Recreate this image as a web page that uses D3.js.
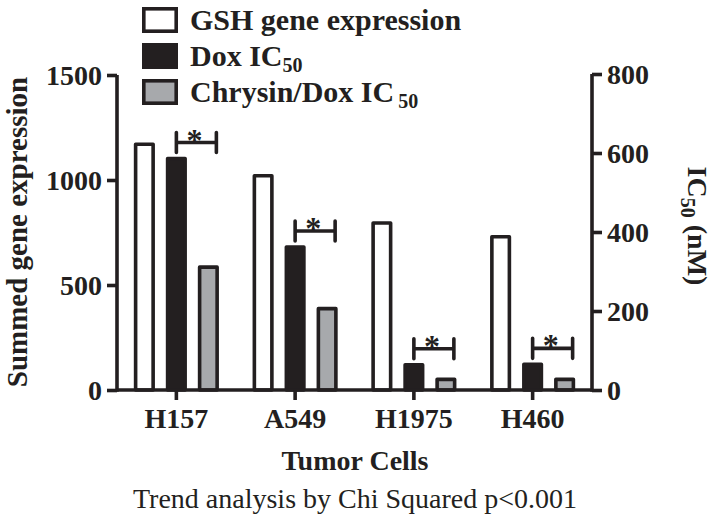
<!DOCTYPE html>
<html>
<head>
<meta charset="utf-8">
<script src="https://cdn.jsdelivr.net/npm/d3@7"></script>
<style>
  body { margin: 0; background: #fff; }
  svg text { font-family: "Liberation Serif", "Times New Roman", serif; fill: #231f20; }
</style>
</head>
<body>
<svg id="chart" width="714" height="522"></svg>
<script>
// values
var cells = ["H157", "A549", "H1975", "H460"];
var gshExpr = [1170, 1020, 795, 730];      // left axis
var doxIC50 = [586, 362, 64, 65];          // right axis, nM
var chrysinDoxIC50 = [311, 206, 27, 27];   // right axis, nM
var leftTicks = [0, 500, 1000, 1500];
var rightTicks = [0, 200, 400, 600, 800];

var ink = "#231f20";
var grey = "#a7a9ac";
var sw = 3.6;

var svg = d3.select("#chart");

var x0 = d3.scaleBand().domain(cells).range([117, 592]);
var x1 = d3.scaleBand().domain([0, 1, 2]).range([-48, 48])
    .paddingInner(0.34).paddingOuter(0.17);
var yL = d3.scaleLinear().domain([0, 1500]).range([390, 75]);
var yR = d3.scaleLinear().domain([0, 800]).range([390, 74]);

var series = [
  { vals: gshExpr, fill: "#fff", y: yL },
  { vals: doxIC50, fill: ink, y: yR },
  { vals: chrysinDoxIC50, fill: grey, y: yR }
];

// bars
series.forEach(function(s, si) {
  svg.append("g").selectAll("rect")
    .data(s.vals)
    .join("rect")
    .attr("x", function(d, i) { return x0(cells[i]) + x0.bandwidth() / 2 + x1(si) + sw / 2; })
    .attr("width", x1.bandwidth() - sw)
    .attr("y", function(d) { return s.y(d); })
    .attr("height", function(d) { return 390 - s.y(d); })
    .attr("fill", s.fill)
    .attr("stroke", ink)
    .attr("stroke-width", sw)
    .attr("stroke-linejoin", "round");
});

// axes
var axL = svg.append("g").attr("transform", "translate(117,0)")
    .call(d3.axisLeft(yL).tickValues(leftTicks).tickSize(10).tickPadding(5).tickFormat(d3.format("d")));
var axR = svg.append("g").attr("transform", "translate(592,0)")
    .call(d3.axisRight(yR).tickValues(rightTicks).tickSize(10).tickPadding(5).tickFormat(d3.format("d")));
var axB = svg.append("g").attr("transform", "translate(0,390)")
    .call(d3.axisBottom(x0).tickSize(10).tickPadding(7));

[axL, axR, axB].forEach(function(a) {
  a.select(".domain").attr("stroke", ink).attr("stroke-width", sw);
  a.selectAll(".tick line").attr("stroke", ink).attr("stroke-width", sw);
  a.selectAll(".tick text").attr("fill", ink)
    .style("font-size", "28px").style("font-weight", "bold").style("font-family", "Liberation Serif");
});
// plain domain lines (no outer ticks)
axL.select(".domain").attr("d", "M0," + yL(1500) + "V" + (390 + sw / 2));
axR.select(".domain").attr("d", "M0," + yR(800) + "V" + (390 + sw / 2));
axB.select(".domain").attr("d", "M117,0H592");
axL.selectAll(".tick text").attr("dy", "0.34em");
axR.selectAll(".tick text").attr("dy", "0.34em");
axB.selectAll(".tick text").attr("dy", "0.76em");

// significance brackets between Dox and Chrysin/Dox
var br = svg.append("g");
cells.forEach(function(c, i) {
  var xa = x0(c) + x0.bandwidth() / 2;
  var xb = xa + 40;
  var yb = yR(doxIC50[i]) - 16;
  br.append("path")
    .attr("d", "M" + xa + "," + (yb - 10) + "V" + (yb + 10) + "M" + xa + "," + yb + "H" + xb +
               "M" + xb + "," + (yb - 10) + "V" + (yb + 10))
    .attr("fill", "none").attr("stroke", ink).attr("stroke-width", sw).attr("stroke-linecap", "round");
  br.append("text")
    .attr("x", (xa + xb) / 2 - 2).attr("y", yb + 8)
    .attr("text-anchor", "middle")
    .style("font-size", "32px").style("font-weight", "bold")
    .text("*");
});

// legend
var legend = [
  { label: "GSH gene expression", sub: null, fill: "#fff" },
  { label: "Dox IC", sub: "50", fill: ink },
  { label: "Chrysin/Dox IC", sub: "50", fill: grey }
];
var lg = svg.append("g");
legend.forEach(function(l, i) {
  var top = 7 + i * 36;
  lg.append("rect")
    .attr("x", 142 + sw / 2).attr("y", top + sw / 2)
    .attr("width", 36 - sw).attr("height", 26 - sw)
    .attr("fill", l.fill).attr("stroke", ink).attr("stroke-width", sw);
  var t = lg.append("text")
    .attr("x", 190).attr("y", top + 23)
    .style("font-size", "30px").style("font-weight", "bold");
  t.append("tspan").text(l.label);
  if (l.sub) {
    t.append("tspan").attr("dy", 6).attr("dx", i == 2 ? 4 : 0).style("font-size", "20px").text(l.sub);
  }
});

// axis titles
svg.append("text")
  .attr("transform", "translate(27,232) rotate(-90)")
  .attr("text-anchor", "middle")
  .style("font-size", "29px").style("font-weight", "bold")
  .text("Summed gene expression");

var rt = svg.append("text")
  .attr("transform", "translate(688,226) rotate(90)")
  .attr("text-anchor", "middle")
  .style("font-size", "28px").style("font-weight", "bold");
rt.append("tspan").text("IC");
rt.append("tspan").attr("dy", 7).style("font-size", "20px").text("50");
rt.append("tspan").attr("dy", -7).text(" (nM)");

svg.append("text")
  .attr("x", 355).attr("y", 470)
  .attr("text-anchor", "middle")
  .style("font-size", "28px").style("font-weight", "bold")
  .text("Tumor Cells");

svg.append("text")
  .attr("x", 355).attr("y", 508)
  .attr("text-anchor", "middle")
  .style("font-size", "28px")
  .text("Trend analysis by Chi Squared p<0.001");
</script>
</body>
</html>
